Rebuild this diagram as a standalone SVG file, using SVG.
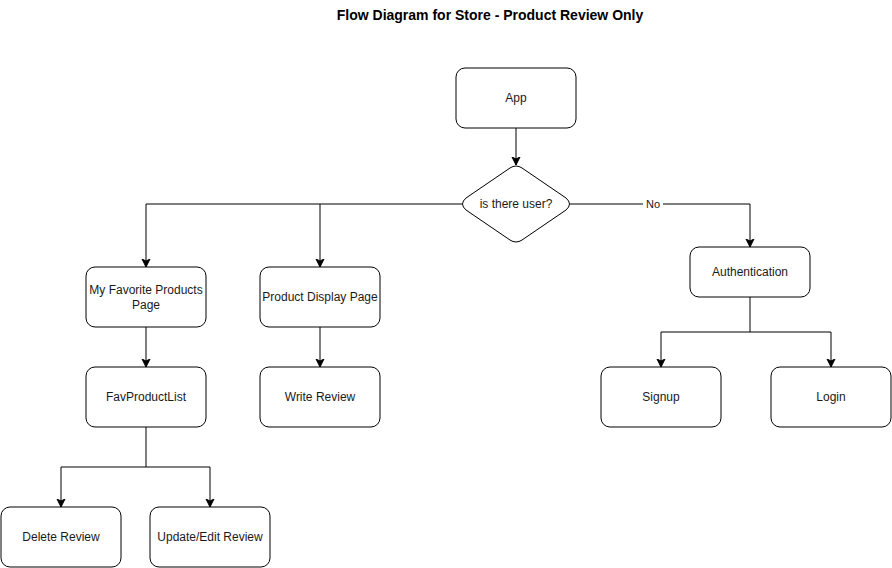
<svg xmlns="http://www.w3.org/2000/svg" width="892" height="568" viewBox="0 0 892 568">
<style>
.box{fill:#fff;stroke:#000;stroke-width:1}
.t{font-family:"Liberation Sans",Arial,sans-serif;font-size:12px;fill:#1a1a1a;text-anchor:middle;dominant-baseline:central}
.title{font-family:"Liberation Sans",Arial,sans-serif;font-size:14px;font-weight:bold;fill:#000;text-anchor:middle;dominant-baseline:central}
.e{fill:none;stroke:#000;stroke-width:1}
.a{marker-end:url(#arr)}
</style>
<defs>
<marker id="arr" markerUnits="userSpaceOnUse" markerWidth="10" markerHeight="10" viewBox="0 0 10 10" refX="8" refY="5" orient="auto">
<path d="M0,1 L8,5 L0,9 L2,5 Z" fill="#000" stroke="#000" stroke-width="1"/>
</marker>
</defs>
<rect width="892" height="568" fill="#fff"/>
<text class="title" x="490" y="15">Flow Diagram for Store - Product Review Only</text>
<g id="connectors">
<path class="e a" d="M516,128 V165"/>
<path class="e a" d="M462,204 H146 V267"/>
<path class="e a" d="M320,204 V267"/>
<path class="e a" d="M570,204 H750 V247"/>
<path class="e a" d="M146,327 V367"/>
<path class="e a" d="M320,327 V367"/>
<path class="e a" d="M146,427 V467 H61 V507"/>
<path class="e a" d="M146,467 H210 V507"/>
<path class="e a" d="M750,297 V332 H661 V367"/>
<path class="e a" d="M750,332 H831 V367"/>
<rect x="643" y="197" width="20" height="14" fill="#fff"/>
<text class="t" x="653" y="204" style="font-size:11px">No</text>
</g>
<g id="app"><rect class="box" x="456" y="68" width="120" height="60" rx="9"/><text class="t" x="516" y="98">App</text></g>
<g id="decision"><path class="box" d="M510,168 Q516,164 522,168 L566,198 Q573,204 566,210 L522,240 Q516,244 510,240 L466,210 Q459,204 466,198 Z"/><text class="t" x="516" y="204">is there user?</text></g>
<g id="favpage"><rect class="box" x="86" y="267" width="120" height="60" rx="9"/><text class="t" x="146" y="290">My Favorite Products</text><text class="t" x="146" y="305">Page</text></g>
<g id="productdisplay"><rect class="box" x="260" y="267" width="120" height="60" rx="9"/><text class="t" x="320" y="297">Product Display Page</text></g>
<g id="favlist"><rect class="box" x="86" y="367" width="120" height="60" rx="9"/><text class="t" x="146" y="397">FavProductList</text></g>
<g id="writereview"><rect class="box" x="260" y="367" width="120" height="60" rx="9"/><text class="t" x="320" y="397">Write Review</text></g>
<g id="delete"><rect class="box" x="1" y="507" width="120" height="60" rx="9"/><text class="t" x="61" y="537">Delete Review</text></g>
<g id="update"><rect class="box" x="150" y="507" width="120" height="60" rx="9"/><text class="t" x="210" y="537">Update/Edit Review</text></g>
<g id="auth"><rect class="box" x="690" y="247" width="120" height="50" rx="9"/><text class="t" x="750" y="272">Authentication</text></g>
<g id="signup"><rect class="box" x="601" y="367" width="120" height="60" rx="9"/><text class="t" x="661" y="397">Signup</text></g>
<g id="login"><rect class="box" x="771" y="367" width="120" height="60" rx="9"/><text class="t" x="831" y="397">Login</text></g>
</svg>
